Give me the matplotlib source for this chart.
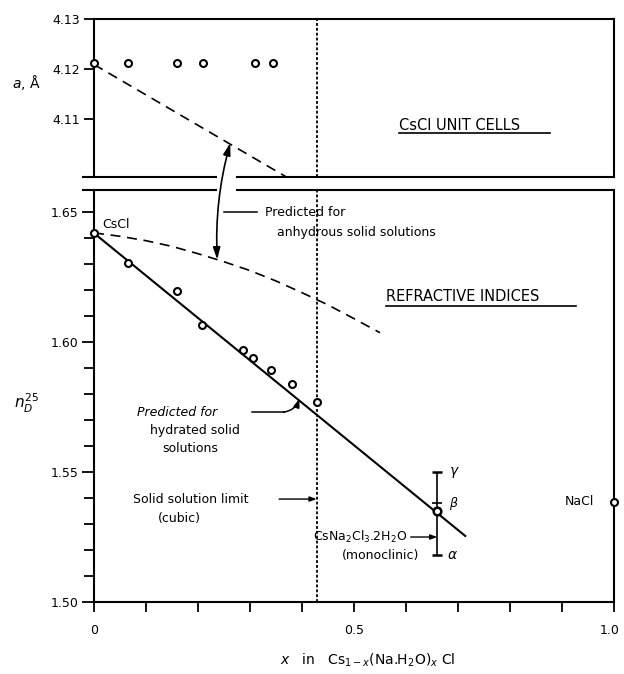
import numpy as np
import matplotlib
matplotlib.use('Agg')
import matplotlib.pyplot as plt
import matplotlib.transforms as mtransforms
from matplotlib.patches import ConnectionPatch

plt.rcParams['font.family'] = ['DejaVu Sans']
plt.rcParams['mathtext.fontset'] = 'dejavusans'

# --- данные ---
# параметр решётки CsCl (верхняя панель)
x_cell = [0.0, 0.065, 0.16, 0.21, 0.31, 0.345]
a_cell = [4.1213, 4.1213, 4.1213, 4.1213, 4.1213, 4.1213]
# предсказание для безводных твёрдых растворов (параметр решётки)
x_pred_a = [0.0, 0.37]
a_pred = [4.1209, 4.0984]

# показатели преломления (нижняя панель)
x_n = [0.0, 0.065, 0.159, 0.208, 0.287, 0.305, 0.341, 0.381, 0.428]
n_val = [1.6419, 1.6304, 1.6196, 1.6065, 1.5969, 1.5938, 1.5892, 1.5838, 1.5769]
# CsNa2Cl3.2H2O: alpha, beta, gamma
x_comp = 0.66
n_comp = 1.535
n_alpha, n_beta, n_gamma = 1.518, 1.538, 1.550
# NaCl
x_nacl = 1.0
n_nacl = 1.5385
# предсказание для гидратированных растворов (прямая)
x_hyd = [0.0, 0.714]
n_hyd = [1.6419, 1.5254]
# предсказание для безводных растворов (кривая)
x_anh = [0.0, 0.05, 0.1, 0.15, 0.2, 0.25, 0.3, 0.35, 0.4, 0.45, 0.5, 0.55]
n_anh = [1.642, 1.6407, 1.639, 1.6368, 1.634, 1.6309, 1.6275, 1.6235, 1.619, 1.6143, 1.609, 1.6036]
# предел твёрдых растворов
x_limit = 0.428

fig = plt.figure(figsize=(6.24, 6.74), dpi=100)
L, W = 94 / 624, 520 / 624
ax_top = fig.add_axes([L, 1 - 177 / 674, W, 158 / 674])
ax_bot = fig.add_axes([L, 1 - 602 / 674, W, 412 / 674])

lw_sp = 1.5
for ax in (ax_top, ax_bot):
    for s in ax.spines.values():
        s.set_linewidth(lw_sp)
    ax.set_xlim(0, 1.0)

# ---- верхняя панель ----
ax_top.set_ylim(4.0984, 4.13)
ax_top.spines['bottom'].set_visible(False)
ax_top.set_xticks([])
ax_top.set_yticks([4.11, 4.12, 4.13])
ax_top.set_yticklabels(['4.11', '4.12', '4.13'])
ax_top.tick_params(axis='y', direction='out', length=7, width=1.3, pad=3, labelsize=9)
ax_top.plot(x_cell, a_cell, 'o', mfc='white', mec='black', ms=5, mew=1.5, clip_on=False, zorder=5)
ax_top.plot(x_pred_a, a_pred, color='black', lw=1.2, dashes=(6, 4))
ax_top.text(0.586, 4.1088, 'CsCl UNIT CELLS', fontsize=10.5, va='center', ha='left')
ax_top.plot([0.586, 0.877], [4.1072, 4.1072], color='black', lw=1.2)

# ---- нижняя панель ----
ax_bot.set_ylim(1.50, 1.6585)
ax_bot.spines['top'].set_visible(False)
ax_bot.set_yticks([1.50, 1.55, 1.60, 1.65])
ax_bot.set_yticklabels(['1.50', '1.55', '1.60', '1.65'])
ax_bot.set_yticks(np.arange(1.50, 1.655, 0.01), minor=True)
ax_bot.set_xticks([0, 0.5, 1.0])
ax_bot.set_xticklabels(['0', '0.5', '1.0'])
ax_bot.set_xticks(np.arange(0, 1.01, 0.1), minor=True)
ax_bot.tick_params(axis='both', which='both', direction='out', width=1.3, labelsize=9)
ax_bot.tick_params(axis='y', which='major', length=9, pad=2)
ax_bot.tick_params(axis='y', which='minor', length=7)
ax_bot.tick_params(axis='x', which='both', length=7, pad=9)
# немного сдвигаем "1.0" влево, чтобы не обрезался
lab = ax_bot.get_xticklabels()[-1]
lab.set_transform(lab.get_transform() + mtransforms.ScaledTranslation(-3 / 72, 0, fig.dpi_scale_trans))

ax_bot.plot(x_hyd, n_hyd, color='black', lw=1.5)
ax_bot.plot(x_anh, n_anh, color='black', lw=1.2, dashes=(6, 4))
ax_bot.plot(x_n, n_val, 'o', mfc='white', mec='black', ms=5, mew=1.5, clip_on=False, zorder=5)
ax_bot.errorbar([x_comp], [n_comp], yerr=[[n_comp - n_alpha], [n_gamma - n_comp]],
                fmt='o', mfc='white', mec='black', ms=5.5, mew=1.8, ecolor='black',
                elinewidth=1.2, capsize=3.5, capthick=1.2, zorder=5)
ax_bot.plot([x_comp], [n_beta], marker='_', color='black', ms=7, mew=1.2)
ax_bot.plot([x_nacl], [n_nacl], 'o', mfc='white', mec='black', ms=5, mew=1.5, clip_on=False, zorder=6)

# вертикальная пунктирная линия (предел твёрдых растворов)
for ax in (ax_top, ax_bot):
    ax.axvline(x_limit, color='black', lw=1.3, dashes=(1.6, 1.1))

# разрыв осей
brk = dict(color='black', lw=lw_sp, clip_on=False, solid_capstyle='butt')
for ax in (ax_top, ax_bot):
    yb = 0 if ax is ax_top else 1
    ax.plot([-0.023, 0.236], [yb, yb], transform=ax.transAxes, **brk)
    ax.plot([0.274, 1.0], [yb, yb], transform=ax.transAxes, **brk)

# изогнутая стрелка между двумя предсказаниями
con = ConnectionPatch(xyA=(0.237, 1.6317), coordsA=ax_bot.transData,
                      xyB=(0.262, 4.1052), coordsB=ax_top.transData,
                      arrowstyle='<|-|>,head_length=0.6,head_width=0.18',
                      connectionstyle='arc3,rad=-0.08', lw=1.2, color='black',
                      shrinkA=0, shrinkB=0, mutation_scale=12)
fig.add_artist(con)
ax_bot.plot([0.25, 0.314], [1.65, 1.65], color='black', lw=1.1)
ax_bot.text(0.328, 1.65, 'Predicted for', fontsize=9, va='center')
ax_bot.text(0.351, 1.6423, 'anhydrous solid solutions', fontsize=9, va='center')

ax_bot.text(0.015, 1.6454, 'CsCl', fontsize=9, va='center')
ax_bot.text(0.561, 1.6177, 'REFRACTIVE INDICES', fontsize=10.5, va='center')
ax_bot.plot([0.561, 0.927], [1.6138, 1.6138], color='black', lw=1.2)

# гидратированные растворы
ax_bot.text(0.082, 1.573, 'Predicted for', fontsize=9, va='center', style='italic')
ax_bot.text(0.107, 1.5658, 'hydrated solid', fontsize=9, va='center')
ax_bot.text(0.132, 1.5592, 'solutions', fontsize=9, va='center')
ax_bot.plot([0.303, 0.366], [1.573, 1.573], color='black', lw=1.1)
ax_bot.annotate('', xy=(0.395, 1.5782), xytext=(0.364, 1.573),
                arrowprops=dict(arrowstyle='-|>,head_length=0.5,head_width=0.18',
                                connectionstyle='arc3,rad=0.3', lw=1.1, color='black',
                                shrinkA=0, shrinkB=0))

# предел твёрдых растворов
ax_bot.text(0.075, 1.5396, 'Solid solution limit', fontsize=9, va='center')
ax_bot.text(0.123, 1.5323, '(cubic)', fontsize=9, va='center')
ax_bot.annotate('', xy=(x_limit, 1.5396), xytext=(0.356, 1.5396),
                arrowprops=dict(arrowstyle='-|>,head_length=0.4,head_width=0.15', lw=1.0,
                                color='black', shrinkA=0, shrinkB=0))

# CsNa2Cl3.2H2O
ax_bot.text(0.602, 1.525, r'CsNa$_2$Cl$_3$.2H$_2$O', fontsize=9, va='center', ha='right')
ax_bot.text(0.477, 1.5177, '(monoclinic)', fontsize=9, va='center')
ax_bot.annotate('', xy=(x_comp, 1.525), xytext=(0.609, 1.525),
                arrowprops=dict(arrowstyle='-|>,head_length=0.4,head_width=0.15', lw=1.0,
                                color='black', shrinkA=0, shrinkB=0))
ax_bot.text(0.682, n_gamma, r'$\gamma$', fontsize=10, va='center')
ax_bot.text(0.682, n_beta, r'$\beta$', fontsize=9, va='center')
ax_bot.text(0.679, n_alpha, r'$\alpha$', fontsize=10, va='center')

ax_bot.text(0.962, n_nacl, 'NaCl', fontsize=9, va='center', ha='right')

# подписи осей
fig.text(26 / 624, 1 - 83 / 674, r'$a$, Å', fontsize=10, ha='center', va='center')
fig.text(26 / 624, 1 - 403 / 674, r'$n_D^{25}$', fontsize=11, ha='center', va='center')
fig.text(368 / 624, 1 - 660 / 674, r'$x$   in   Cs$_{1-x}$(Na.H$_2$O)$_x$ Cl',
         fontsize=10, ha='center', va='center')

fig.savefig('out.png', dpi=100)
